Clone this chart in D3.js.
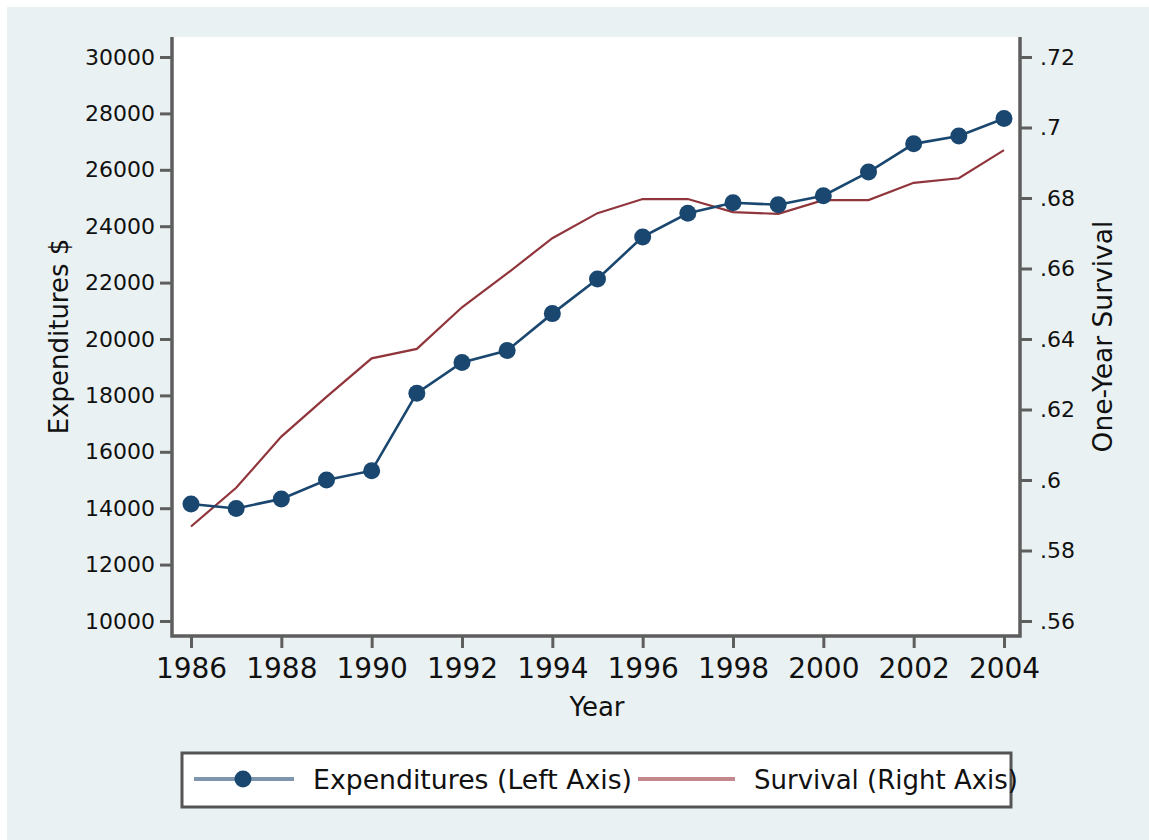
<!DOCTYPE html>
<html>
<head>
<meta charset="utf-8">
<script src="https://cdn.jsdelivr.net/npm/d3@7"></script>
<style>
body{margin:0;background:#fff;}
svg text{font-family:"DejaVu Sans",sans-serif;fill:#111;}
</style>
</head>
<body>
<div class="chart"></div>
<script>
var width=1149,
    height=840;

// data
var years=[1986,1987,1988,1989,1990,1991,1992,1993,1994,1995,1996,1997,1998,1999,2000,2001,2002,2003,2004];
var expenditures=[14150,13990,14330,15000,15330,18080,19170,19590,20900,22130,23620,24460,24830,24760,25080,25920,26920,27200,27820];
var survival=[0.5868,0.5978,0.6123,0.6236,0.6345,0.6372,0.6490,0.6586,0.6686,0.6757,0.6797,0.6797,0.6760,0.6755,0.6794,0.6794,0.6843,0.6856,0.6936];

var xTicks=[1986,1988,1990,1992,1994,1996,1998,2000,2002,2004];
var leftTicks=[10000,12000,14000,16000,18000,20000,22000,24000,26000,28000,30000];
var rightTicks=[0.56,0.58,0.6,0.62,0.64,0.66,0.68,0.7,0.72];
var rightTickLabels=['.56','.58','.6','.62','.64','.66','.68','.7','.72'];
var legendLabels=['Expenditures (Left Axis)','Survival (Right Axis)'];

var navy='#1a476f', maroon='#90353b', axisGray='#5e5e5e';

var svg=d3.select('.chart')
    .append('svg')
        .attr('width',width)
        .attr('height',height);

// stata style background
svg.append('rect')
    .attr('x',7).attr('y',7)
    .attr('width',width-7).attr('height',height-7)
    .attr('fill','#eaf1f3');

var plot={left:172,right:1020,top:37,bottom:636};

svg.append('rect')
    .attr('x',plot.left).attr('y',plot.top)
    .attr('width',plot.right-plot.left).attr('height',plot.bottom-plot.top)
    .attr('fill','#fff');

var x=d3.scaleLinear().domain([1986,2004]).range([191,1004]);
var yLeft=d3.scaleLinear().domain([10000,30000]).range([621,57]);
var yRight=d3.scaleLinear().domain([0.56,0.72]).range([621,57]);

function styleAxis(g){
    g.select('.domain').remove();
    g.selectAll('.tick line').attr('stroke',axisGray).attr('stroke-width',3);
}

svg.append('g')
    .attr('transform',`translate(${plot.left},0)`)
    .call(d3.axisLeft(yLeft).tickValues(leftTicks).tickSize(12).tickPadding(5).tickFormat(d3.format('d')))
    .call(styleAxis)
    .selectAll('text').style('font-size','22px').attr('fill','#111');

svg.append('g')
    .attr('transform',`translate(${plot.right},0)`)
    .call(d3.axisRight(yRight).tickValues(rightTicks).tickSize(12).tickPadding(8)
        .tickFormat((d,i)=>rightTickLabels[i]))
    .call(styleAxis)
    .selectAll('text').style('font-size','22px').attr('fill','#111');

svg.append('g')
    .attr('transform',`translate(0,${plot.bottom})`)
    .call(d3.axisBottom(x).tickValues(xTicks).tickSize(12).tickPadding(10).tickFormat(d3.format('d')))
    .call(styleAxis)
    .selectAll('text').style('font-size','28px').attr('fill','#111');

// axis lines
svg.append('path')
    .attr('d',`M${plot.left},${plot.top}V${plot.bottom}H${plot.right}V${plot.top}`)
    .attr('fill','none')
    .attr('stroke',axisGray)
    .attr('stroke-width',3.5);

// axis titles
svg.append('text')
    .attr('transform',`translate(68,${(plot.top+plot.bottom)/2}) rotate(-90)`)
    .attr('text-anchor','middle')
    .style('font-size','26px')
    .text('Expenditures $');

svg.append('text')
    .attr('transform',`translate(1112,${(plot.top+plot.bottom)/2}) rotate(-90)`)
    .attr('text-anchor','middle')
    .style('font-size','26.5px')
    .text('One-Year Survival');

svg.append('text')
    .attr('x',597).attr('y',716)
    .attr('text-anchor','middle')
    .style('font-size','26px')
    .text('Year');

// series
var survLine=d3.line()
    .x((d,i)=>x(years[i]))
    .y(d=>yRight(d));

svg.append('path')
    .datum(survival)
    .attr('d',survLine)
    .attr('fill','none')
    .attr('stroke',maroon)
    .attr('stroke-width',2.2);

var expLine=d3.line()
    .x((d,i)=>x(years[i]))
    .y(d=>yLeft(d));

svg.append('path')
    .datum(expenditures)
    .attr('d',expLine)
    .attr('fill','none')
    .attr('stroke',navy)
    .attr('stroke-width',2.6);

svg.selectAll('.dot')
    .data(expenditures)
    .enter()
    .append('circle')
    .classed('dot',true)
    .attr('cx',(d,i)=>x(years[i]))
    .attr('cy',d=>yLeft(d))
    .attr('r',8.5)
    .attr('fill',navy);

// legend
var legend=svg.append('g');
legend.append('rect')
    .attr('x',182).attr('y',753)
    .attr('width',829).attr('height',54)
    .attr('fill','#fff')
    .attr('stroke','#555')
    .attr('stroke-width',3);

legend.append('line')
    .attr('x1',194).attr('x2',294).attr('y1',779).attr('y2',779)
    .attr('stroke','#7d96ae').attr('stroke-width',4);
legend.append('circle')
    .attr('cx',243).attr('cy',779).attr('r',8.5)
    .attr('fill',navy);
legend.append('text')
    .attr('x',313).attr('y',789)
    .style('font-size','26px')
    .attr('textLength',319)
    .attr('lengthAdjust','spacingAndGlyphs')
    .text(legendLabels[0]);

legend.append('line')
    .attr('x1',638).attr('x2',735).attr('y1',779).attr('y2',779)
    .attr('stroke','#c4878d').attr('stroke-width',4);
legend.append('text')
    .attr('x',754).attr('y',789)
    .style('font-size','26px')
    .attr('textLength',264)
    .attr('lengthAdjust','spacingAndGlyphs')
    .text(legendLabels[1]);
</script>
</body>
</html>
